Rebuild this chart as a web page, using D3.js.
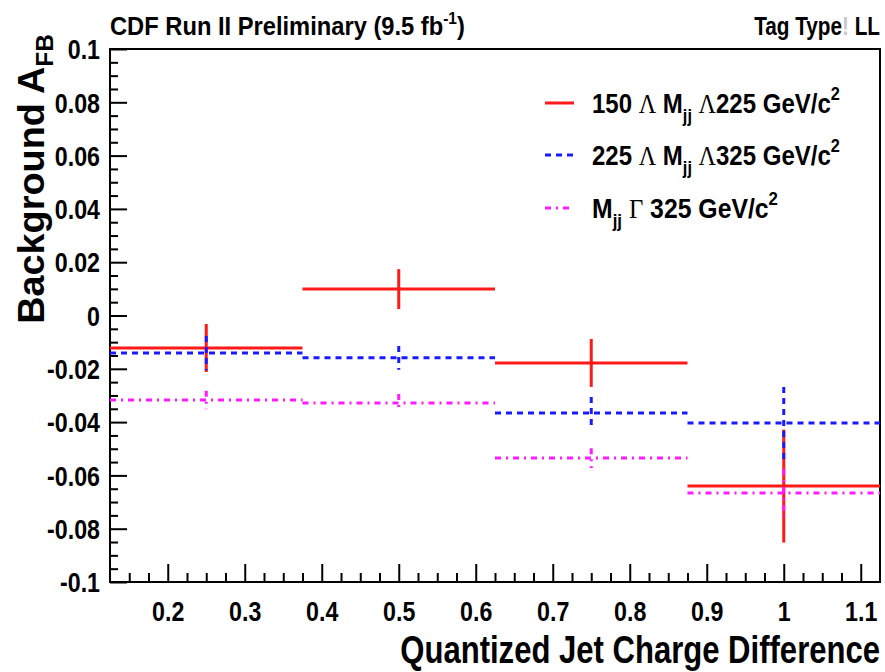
<!DOCTYPE html>
<html><head><meta charset="utf-8">
<script src="https://cdn.jsdelivr.net/npm/d3@7"></script>
<style>
body{margin:0;background:#fff;}
text{font-family:"Liberation Sans",Arial,sans-serif;font-weight:bold;fill:#000;}
.sym{font-family:"Liberation Serif","DejaVu Serif",serif;font-weight:normal;}
</style></head>
<body>
<script>
// ---- data ----
const binCenters = [0.25, 0.5, 0.75, 1.0];
const binHalfWidth = 0.125;
const redValues = [-0.0122, 0.0099, -0.0178, -0.0640];
const redErrors = [0.0090, 0.0075, 0.0090, 0.0212];
const blueValues = [-0.0141, -0.0159, -0.0366, -0.0403];
const blueErrors = [0.0064, 0.0045, 0.0060, 0.0135];
const magentaValues = [-0.0317, -0.0328, -0.0535, -0.0666];
const magentaErrors = [0.0035, 0.0033, 0.0037, 0.0090];
const xTickLabels = [0.2,0.3,0.4,0.5,0.6,0.7,0.8,0.9,1,1.1];
const yTickLabels = [-0.1,-0.08,-0.06,-0.04,-0.02,0,0.02,0.04,0.06,0.08,0.1];

const W=885,H=672;
const svg=d3.select("body").append("svg").attr("width",W).attr("height",H);
const L=110,R=880,T=49,B=582;
const x=d3.scaleLinear().domain([0.125,1.125]).range([L,R]);
const y=d3.scaleLinear().domain([-0.1,0.1]).range([B,T]);

// horizontally squeeze a text around its anchor point
function squeeze(node,s){
  const tx=+(node.getAttribute("x")||0), ty=+(node.getAttribute("y")||0);
  node.setAttribute("transform",`translate(${tx},${ty}) scale(${s},1) translate(${-tx},${-ty})`);
}
function fitTo(node,target){
  const w=node.getBBox().width; squeeze(node,target/w);
}

const fmt=d=>String(d);
// minor ticks
const xMinor=d3.range(0.15,1.125,0.025).filter(v=>Math.abs(v*10-Math.round(v*10))>1e-6);
const yMinor=d3.range(-0.1,0.1001,0.005).filter(v=>Math.abs(v*50-Math.round(v*50))>1e-6);

const gx=svg.append("g").attr("transform",`translate(0,${B})`)
  .call(d3.axisBottom(x).tickValues(xTickLabels).tickSize(-18).tickSizeOuter(0).tickPadding(39).tickFormat(fmt));
gx.select(".domain").remove();
gx.selectAll("line").attr("stroke","#000").attr("stroke-width",2);
gx.selectAll("text").style("font-size","27px").attr("dy","0").each(function(){squeeze(this,0.86);});
const gxm=svg.append("g").attr("transform",`translate(0,${B})`)
  .call(d3.axisBottom(x).tickValues(xMinor).tickSize(-9).tickFormat(""));
gxm.select(".domain").remove();
gxm.selectAll("line").attr("stroke","#000").attr("stroke-width",2);

const gy=svg.append("g").attr("transform",`translate(${L},0)`)
  .call(d3.axisLeft(y).tickValues(yTickLabels).tickSize(-17).tickSizeOuter(0).tickPadding(10).tickFormat(fmt));
gy.select(".domain").remove();
gy.selectAll("line").attr("stroke","#000").attr("stroke-width",2);
gy.selectAll("text").style("font-size","27px").attr("dy","0.36em").each(function(){squeeze(this,0.86);});
const gym=svg.append("g").attr("transform",`translate(${L},0)`)
  .call(d3.axisLeft(y).tickValues(yMinor).tickSize(-8).tickFormat(""));
gym.select(".domain").remove();
gym.selectAll("line").attr("stroke","#000").attr("stroke-width",2);

// frame
svg.append("rect").attr("x",L).attr("y",T).attr("width",R-L).attr("height",B-T)
  .attr("fill","none").attr("stroke","#000").attr("stroke-width",2);

// series
const series=[
  {vals:redValues,errs:redErrors,color:"#ff1a1a",dash:null},
  {vals:blueValues,errs:blueErrors,color:"#1a1aff",dash:"6,5"},
  {vals:magentaValues,errs:magentaErrors,color:"#ff1aff",dash:"6,5,2,5"}
];
const plot=svg.append("g");
series.forEach(s=>{
  binCenters.forEach((c,i)=>{
    plot.append("line").attr("x1",x(c-binHalfWidth)).attr("x2",x(c+binHalfWidth))
      .attr("y1",y(s.vals[i])).attr("y2",y(s.vals[i]))
      .attr("stroke",s.color).attr("stroke-width",3).attr("stroke-dasharray",s.dash);
    plot.append("line").attr("x1",x(c)).attr("x2",x(c))
      .attr("y1",y(s.vals[i]+s.errs[i])).attr("y2",y(s.vals[i]-s.errs[i]))
      .attr("stroke",s.color).attr("stroke-width",3).attr("stroke-dasharray",s.dash);
  });
});

// legend
const leg=[
  {color:"#ff1a1a",dash:null,y:103,w:248,parts:[["150 ",""],["Λ","sym"],[" M",""],["jj","sub"],[" ",""],["Λ","sym"],["225 GeV/c",""],["2","sup"]]},
  {color:"#1a1aff",dash:"6,5",y:155,w:248,parts:[["225 ",""],["Λ","sym"],[" M",""],["jj","sub"],[" ",""],["Λ","sym"],["325 GeV/c",""],["2","sup"]]},
  {color:"#ff1aff",dash:"6,5,2,5",y:208,w:186,parts:[["M",""],["jj","sub"],[" ",""],["Γ","sym"],[" 325 GeV/c",""],["2","sup"]]}
];
leg.forEach(l=>{
  svg.append("line").attr("x1",545).attr("x2",574).attr("y1",l.y).attr("y2",l.y)
    .attr("stroke",l.color).attr("stroke-width",3).attr("stroke-dasharray",l.dash);
  const t=svg.append("text").attr("x",592).attr("y",l.y+10).style("font-size","28px");
  let shift=0;
  l.parts.forEach(p=>{
    const ts=t.append("tspan").text(p[0]);
    if(p[1]==="sym"){ts.attr("class","sym");}
    if(p[1]==="sub"){ts.style("font-size","19px").attr("dy",9);shift=9;}
    else if(p[1]==="sup"){ts.style("font-size","19px").attr("dy",-13-shift);shift=-13;}
    else if(shift!==0){ts.attr("dy",-shift);shift=0;}
  });
  fitTo(t.node(),l.w);
});

// header texts
const h1=svg.append("text").attr("x",110).attr("y",35).style("font-size","26px");
h1.append("tspan").text("CDF Run II Preliminary (9.5 fb");
h1.append("tspan").text("-1").style("font-size","17px").attr("dy",-11);
h1.append("tspan").text(")").attr("dy",11);
fitTo(h1.node(),355);
const h2=svg.append("text").attr("x",880).attr("y",35).attr("text-anchor","end").style("font-size","26px");
h2.append("tspan").text("Tag Type");
h2.append("tspan").text("!").style("fill","#c8c8c8");
h2.append("tspan").text(" LL");
fitTo(h2.node(),126);

// axis titles
const xt=svg.append("text").attr("x",880).attr("y",663).attr("text-anchor","end").style("font-size","38px")
  .text("Quantized Jet Charge Difference");
fitTo(xt.node(),480);
const yt=svg.append("text").attr("x",0).attr("y",0).attr("text-anchor","end").style("font-size","37px");
yt.append("tspan").text("Background A");
yt.append("tspan").text("FB").style("font-size","24px").attr("dy",9);
const yw=yt.node().getBBox().width;
yt.attr("transform",`translate(44,34) rotate(-90) scale(${290/yw},1)`);
</script>
</body></html>
